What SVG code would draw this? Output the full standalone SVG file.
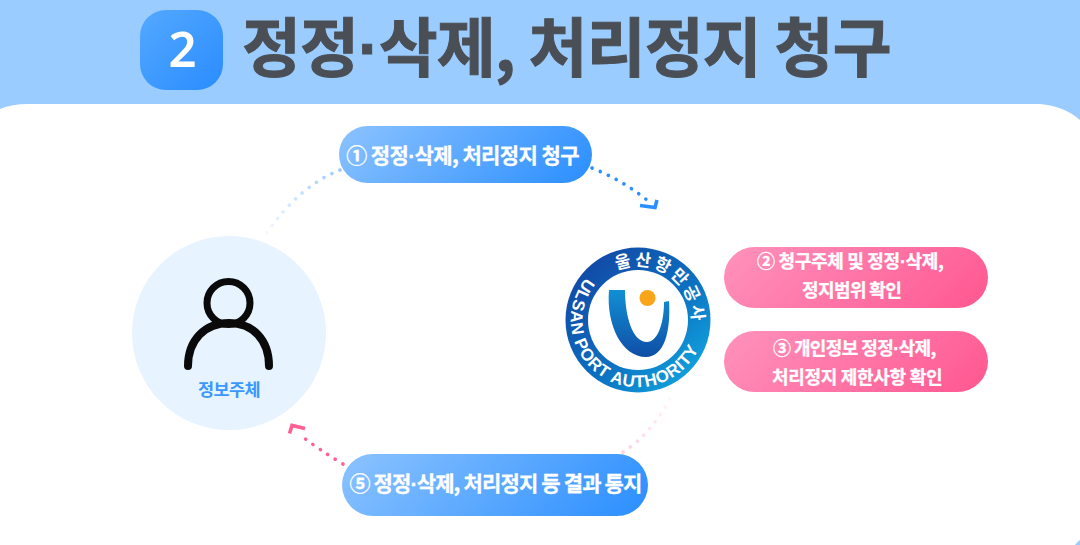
<svg xmlns="http://www.w3.org/2000/svg" width="1080" height="545" viewBox="0 0 1080 545">
<style>
text{font-family:"Noto Sans CJK KR","Noto Sans",sans-serif;font-weight:700}
.w{fill:#fff;text-anchor:middle;stroke:#fff;stroke-width:.3}
.s{fill:#fff;stroke:#fff;stroke-width:.3}
.p{font-size:18px}
.b{font-size:21px}
.d{font-family:"Liberation Sans",sans-serif}
.dot{fill:none;stroke-width:3.6;stroke-linecap:round;stroke-dasharray:.1 8.800}
.head{fill:none;stroke-width:3.600}
.lw{fill:#fff;font-family:"Liberation Sans",sans-serif;font-size:17px}
.lk{fill:#fff;font-size:17px;font-weight:700}
</style>
<defs>
<linearGradient id="g1" gradientUnits="userSpaceOnUse" x1="388" y1="77" x2="543" y2="232"><stop offset="0" stop-color="#8cc3ff"/><stop offset="1" stop-color="#2a8eff"/></linearGradient>
<linearGradient id="g5" gradientUnits="userSpaceOnUse" x1="403" y1="393" x2="587" y2="577"><stop offset="0" stop-color="#8cc3ff"/><stop offset="1" stop-color="#2a8eff"/></linearGradient>
<linearGradient id="g2" gradientUnits="userSpaceOnUse" x1="775" y1="196.500" x2="937" y2="358.500"><stop offset="0" stop-color="#ff92bc"/><stop offset="1" stop-color="#ff5790"/></linearGradient>
<linearGradient id="g3" gradientUnits="userSpaceOnUse" x1="775" y1="280.500" x2="937" y2="442.500"><stop offset="0" stop-color="#ff92bc"/><stop offset="1" stop-color="#ff5790"/></linearGradient>
<linearGradient id="gs" x1="0" y1="0" x2="1" y2="1"><stop offset="0" stop-color="#54a9ff"/><stop offset="1" stop-color="#2a8cff"/></linearGradient>
<linearGradient id="gl" x1="0" y1="0" x2="1" y2="1"><stop offset="0" stop-color="#143f9e"/><stop offset=".55" stop-color="#0c6fc0"/><stop offset="1" stop-color="#12b4e8"/></linearGradient>
<linearGradient id="gu" x1="0" y1="0" x2="0" y2="1"><stop offset="0" stop-color="#1190d4"/><stop offset="1" stop-color="#0f4ea6"/></linearGradient>
<linearGradient id="f1" gradientUnits="userSpaceOnUse" x1="340" y1="170" x2="266" y2="234"><stop offset="0" stop-color="#9ccbff"/><stop offset="1" stop-color="#9ccbff" stop-opacity=".1"/></linearGradient>
<linearGradient id="f2" gradientUnits="userSpaceOnUse" x1="623" y1="452" x2="673" y2="393"><stop offset="0" stop-color="#ffd0e0"/><stop offset="1" stop-color="#ffd0e0" stop-opacity=".1"/></linearGradient>
<path id="arcE" d="M586 277.800A67 67 0 1 0 700.100 345.100"/>
<path id="arcK" d="M616.900 270.300A54 54 0 0 1 691.800 324.700"/>
</defs>
<rect id="bg" width="1080" height="545" fill="#9accff"/>
<path id="panel" d="M0 109Q12 104 28 104H1040Q1064 106 1080 120V540Q1077 542 1075 545H0Z" fill="#fff"/>
<g id="title">
<rect x="140" y="10" width="83" height="80" rx="26" fill="url(#gs)"/>
<text x="182.500" y="67" fill="#fff" text-anchor="middle" style="font-size:49px;font-weight:600;font-family:'Noto Sans',sans-serif">2</text>
<text x="242" y="71" fill="#4a4f56" stroke="#4a4f56" stroke-width="1" font-size="64" letter-spacing="-.8">정정<tspan class="d">·</tspan>삭제, 처리정지 청구</text>
</g>
<g id="connectors">
<path class="dot" stroke="url(#f1)" d="M340 170Q299 186 266 234"/>
<path class="dot" stroke="#2a8fff" d="M592 168Q622 180 647 200"/>
<path class="head" stroke="#2a8fff" d="M640 205.500L655 207.500L657 200"/>
<path class="dot" stroke="url(#f2)" d="M623 452Q652 434 673 393"/>
<path class="dot" stroke="#ff5f93" d="M343 464Q318 449 299 434"/>
<path class="head" stroke="#ff5f93" d="M305 428.500L292 425.500L289.500 433.500"/>
</g>
<g id="subject">
<circle cx="229" cy="333" r="97" fill="#e7f3fe"/>
<circle cx="228.500" cy="303" r="21.500" fill="none" stroke="#0a0a0a" stroke-width="7"/>
<path d="M188 366C188 340 205 323 229 323S269 340 269 366" fill="none" stroke="#0a0a0a" stroke-width="8" stroke-linecap="round"/>
<text x="229" y="396" text-anchor="middle" fill="#3a98ff" font-size="17.500" letter-spacing="-.6">정보주체</text>
</g>
<g id="logo">
<circle cx="638" cy="320" r="72.500" fill="url(#gl)"/>
<circle cx="638" cy="320" r="50" fill="#fff"/>
<path d="M609 290H625C625 315 632 342 647 342C657 342 664 325 664 302L669 301C671 332 664 357 646 357C622 357 606 325 609 290Z" fill="url(#gu)"/>
<circle cx="647.500" cy="298" r="8" fill="#f9a51a"/>
<text class="lw"><textPath href="#arcE" textLength="226">ULSAN PORT AUTHORITY</textPath></text>
<text class="lk" letter-spacing="2.700"><textPath href="#arcK">울산항만공사</textPath></text>
</g>
<g id="step1">
<rect x="339" y="126" width="253" height="57" rx="28.500" fill="url(#g1)"/>
<text x="462.500" y="163" class="w b" letter-spacing="-.6">① 정정<tspan class="d">·</tspan>삭제, 처리정지 청구</text>
</g>
<g id="step2">
<rect x="724" y="247" width="264" height="61" rx="30.500" fill="url(#g2)"/>
<text x="757" y="268" class="s p" letter-spacing="-.3">② 청구주체 및 정정<tspan class="d">·</tspan>삭제,</text>
<text x="802" y="296.500" class="s p" letter-spacing="-.6">정지범위 확인</text>
</g>
<g id="step3">
<rect x="724" y="331" width="264" height="61" rx="30.500" fill="url(#g3)"/>
<text x="773" y="355" class="s p" letter-spacing="-.6">③ 개인정보 정정<tspan class="d">·</tspan>삭제,</text>
<text x="772" y="383.500" class="s p" letter-spacing="-.3">처리정지 제한사항 확인</text>
</g>
<g id="step5">
<rect x="342" y="454" width="306" height="62" rx="31" fill="url(#g5)"/>
<text x="495.500" y="491" class="w b" letter-spacing="-.85">⑤ 정정<tspan class="d">·</tspan>삭제, 처리정지 등 결과 통지</text>
</g>
</svg>
